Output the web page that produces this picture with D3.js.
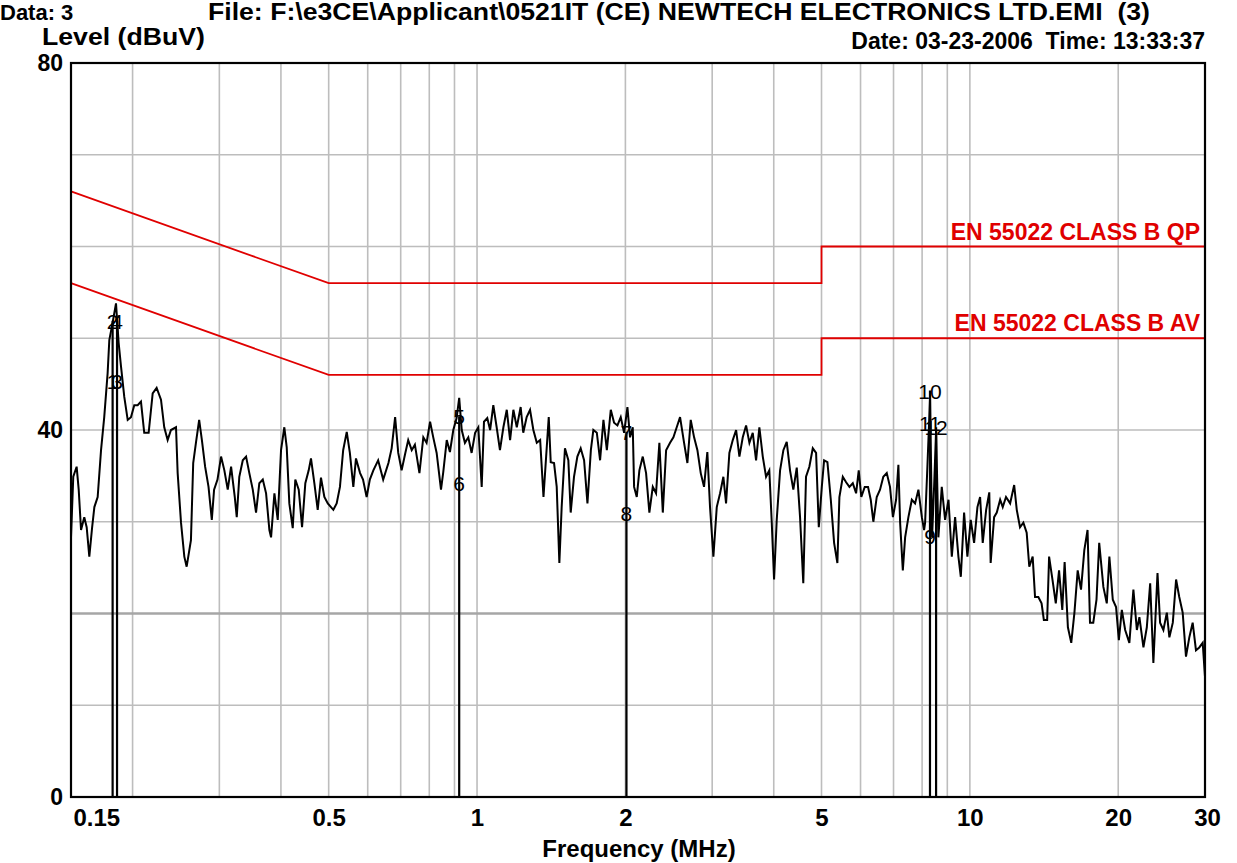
<!DOCTYPE html>
<html><head><meta charset="utf-8">
<script src="https://cdn.jsdelivr.net/npm/d3@7"></script>
<style>body{margin:0;background:#fff}svg{display:block}text{white-space:pre}</style>
</head><body><svg id="c" width="1237" height="863"></svg>
<script>
// ---------- data ----------
const freqMHz = [
0.1500,0.1516,0.1540,0.1555,0.1572,0.1596,0.1614,0.1634,0.1655,0.1673,0.1699,0.1726,0.1752,0.1780,0.1794,0.1822,0.1851,0.1874,0.1895,0.1924,
0.1955,0.1985,0.2016,0.2048,0.2080,0.2112,0.2156,0.2197,0.2238,0.2284,0.2319,0.2356,0.2393,0.2450,0.2469,0.2508,0.2547,0.2575,0.2627,0.2655,
0.2689,0.2730,0.2765,0.2807,0.2852,0.2896,0.2927,0.2974,0.3024,0.3071,0.3120,0.3169,0.3224,0.3254,0.3293,0.3347,0.3399,0.3451,0.3507,0.3561,
0.3616,0.3675,0.3732,0.3790,0.3820,0.3880,0.3941,0.4002,0.4064,0.4110,0.4160,0.4227,0.4278,0.4347,0.4415,0.4483,0.4554,0.4603,0.4676,0.4750,
0.4823,0.4900,0.4979,0.5054,
0.511,0.519,0.527,0.535,0.544,0.552,0.561,0.568,0.579,0.587,0.597,0.606,0.616,0.630,0.645,0.661,0.671,0.682,0.692,0.703,
0.714,0.725,0.737,0.748,0.764,0.778,0.790,0.803,0.815,0.828,0.845,0.854,0.868,0.881,0.895,0.909,0.920,0.931,0.945,0.960,
0.975,0.991,1.006,1.022,1.033,1.049,1.063,1.079,1.096,1.113,1.131,1.149,1.167,1.185,1.204,1.226,1.241,1.261,1.281,1.301,
1.322,1.343,1.364,1.381,1.398,1.411,1.433,1.451,1.469,1.485,1.508,1.532,1.549,1.573,1.598,1.623,1.649,1.675,1.702,1.722,
1.750,1.777,1.805,1.834,1.868,1.897,1.927,1.957,1.988,2.019,
2.044,2.070,2.083,2.109,2.135,2.169,2.203,2.237,2.273,2.308,2.344,2.382,2.419,2.464,2.503,2.542,2.582,2.631,2.672,2.714,
2.757,2.800,2.844,2.888,2.933,2.970,3.017,3.065,3.113,3.161,3.201,3.251,3.303,3.355,3.407,3.461,3.515,3.570,3.626,3.683,
3.740,3.800,3.859,3.918,3.963,4.006,4.056,4.120,4.184,4.250,4.316,4.383,4.454,4.523,4.592,4.651,4.724,4.800,4.875,4.937,
5.007,5.061,5.140,5.222,5.303,5.385,5.436,5.523,5.609,5.696,5.787,5.877,5.950,6.022,6.119,6.214,6.293,6.370,6.472,6.572,
6.674,6.782,6.886,6.980,7.085,7.161,7.219,7.311,7.390,7.504,7.625,7.742,7.863,7.990,8.075,
8.113,8.200,8.304,8.382,8.461,8.541,8.632,8.770,8.907,9.050,9.191,9.334,9.479,9.586,9.734,9.885,10.04,10.20,10.36,10.49,
10.62,10.79,10.95,11.02,11.20,11.34,11.52,11.66,11.84,12.07,12.30,12.45,12.64,12.84,13.04,13.20,13.41,13.56,13.77,13.98,
14.13,14.35,14.48,14.71,14.94,15.17,15.40,15.57,15.81,16.06,16.30,16.55,16.81,17.07,17.33,17.53,17.80,18.07,18.30,18.66,
18.96,19.19,19.50,19.80,20.06,20.34,20.66,21.07,21.47,21.82,22.08,22.50,22.86,23.22,23.57,24.03,24.32,24.70,25.10,25.40,
25.81,26.21,26.60,27.03,27.45,27.88,28.32,28.76,29.21,29.68,30.00
];
const levelDbuV = [
28.3,34.9,36.0,33.5,29.1,30.5,29.4,26.2,29.3,31.6,32.7,37.8,41.4,46.2,49.8,51.7,53.8,49.5,46.9,43.6,
41.1,41.4,42.7,42.7,43.1,39.7,39.7,44.0,44.6,43.3,40.3,38.9,40.0,40.3,35.3,29.9,26.2,25.1,28.0,36.4,
38.6,41.1,38.9,36.0,33.8,30.2,33.5,34.6,37.1,35.6,33.5,36.0,32.7,30.5,34.9,36.7,37.1,35.3,33.5,31.0,
34.2,34.6,33.1,29.1,28.3,33.1,30.2,37.8,40.3,38.1,32.0,29.3,34.6,33.5,29.4,34.2,35.6,36.9,34.2,31.3,
34.8,32.7,32.0,31.6,
31.3,32.0,33.8,37.8,39.8,37.5,33.8,36.9,35.3,34.6,32.7,34.6,35.6,36.7,34.6,36.4,38.0,41.4,37.5,35.6,
37.3,38.9,37.8,38.4,35.3,39.2,38.6,40.9,39.2,37.5,33.5,35.4,38.9,37.6,40.0,41.3,43.5,40.0,38.6,39.2,
37.5,39.7,40.3,33.8,40.9,41.3,40.0,42.7,40.3,37.8,40.3,42.2,38.9,42.2,40.3,42.5,39.7,41.4,42.2,40.0,
38.6,38.9,32.7,37.1,41.4,36.5,36.4,33.8,25.5,31.6,38.0,36.7,31.0,34.9,37.1,38.0,36.7,32.0,37.8,40.0,
39.7,36.7,41.1,37.8,42.2,40.8,40.5,41.4,39.7,42.5,
39.2,40.3,33.8,32.7,35.6,37.1,35.3,31.0,33.8,33.1,38.6,31.0,37.8,38.6,39.2,40.3,41.4,38.6,36.4,41.1,
39.2,37.8,35.3,33.8,37.6,31.6,26.2,31.6,33.1,34.9,32.0,37.5,38.9,40.0,37.1,39.2,40.5,38.6,39.7,36.7,
40.3,37.1,34.9,35.6,29.9,23.7,30.2,35.6,37.8,38.7,35.6,33.5,35.9,30.5,23.3,34.9,36.0,38.0,37.5,29.4,
33.8,36.7,36.5,32.4,27.7,25.5,32.7,34.9,34.3,33.8,34.2,33.1,35.6,32.7,33.8,33.8,32.4,30.0,32.7,33.5,
34.9,35.3,33.8,30.5,32.4,36.2,29.9,24.7,28.3,30.5,32.4,32.0,33.5,30.5,29.1,
29.9,36.0,43.6,28.3,33.8,40.0,28.3,33.8,30.2,32.4,26.2,30.5,26.2,24.0,31.0,26.2,30.2,27.7,31.6,32.7,
27.7,31.3,33.2,25.5,30.5,31.0,32.4,31.6,32.7,32.0,34.0,31.3,29.4,29.9,28.8,25.1,26.2,21.8,21.8,21.1,
19.3,19.3,26.2,23.7,21.1,24.7,20.4,25.6,18.5,16.8,20.1,24.7,22.6,26.9,29.1,19.0,19.0,21.5,27.7,22.9,
21.1,26.2,21.5,20.7,17.1,20.4,18.2,16.8,22.6,18.2,19.6,16.3,18.5,23.3,14.6,24.4,19.0,18.2,20.1,17.4,
19.0,23.7,21.8,20.1,15.3,17.4,19.0,16.0,16.3,16.8,13.1
];

const markerLabels = ["1","2","3","4","5","6","7","8","9","10","11","12"];
const markerFreq   = [0.1822,0.1822,0.1860,0.1860,0.920,0.920,2.01,2.01,8.30,8.30,8.30,8.54];
const markerLevel  = [45.3,51.9,45.3,51.9,41.5,34.2,39.8,31.0,28.5,44.3,40.8,40.3];

const limitNames = ["EN 55022 CLASS B QP","EN 55022 CLASS B AV"];
const limitFreq  = [0.15,0.5,5,5,30];
const qpLevel    = [66,56,56,60,60];
const avLevel    = [56,46,46,50,50];

const xTickValues = [0.15,0.5,1,2,5,10,20,30];
const xTickLabels = ["0.15","0.5","1","2","5","10","20","30"];
const xGridValues = [0.2,0.3,0.4,0.5,0.6,0.7,0.8,0.9,1,2,3,4,5,6,7,8,9,10,20];
const yTickValues = [0,40,80];
const yGridValues = [10,20,30,40,50,60,70];

const headerData  = "Data: 3";
const headerFile  = "File: F:\\e3CE\\Applicant\\0521IT (CE) NEWTECH ELECTRONICS LTD.EMI  (3)";
const headerDate  = "Date: 03-23-2006  Time: 13:33:37";
const yTitle      = "Level (dBuV)";
const xTitle      = "Frequency (MHz)";

// ---------- layout ----------
const W = 1237, H = 863;
const m = {l:71, r:32, t:63, b:66};
const svg = d3.select("#c");
const FONT = "'Liberation Sans', Arial, sans-serif";
const RED = "#e00000";

const x = d3.scaleLog().domain([0.15,30]).range([m.l, W-m.r]);
const y = d3.scaleLinear().domain([0,80]).range([H-m.b, m.t]);

// grid
const g = svg.append("g");
g.selectAll("line.vg").data(xGridValues).enter().append("line")
  .attr("x1", d=>x(d)).attr("x2", d=>x(d)).attr("y1", y(80)).attr("y2", y(0))
  .attr("stroke", "#bdbdbd").attr("stroke-width", 1.6);
g.selectAll("line.hg").data(yGridValues).enter().append("line")
  .attr("x1", x(0.15)).attr("x2", x(30)).attr("y1", d=>y(d)).attr("y2", d=>y(d))
  .attr("stroke", d=> d===20 ? "#a6a6a6" : "#bdbdbd").attr("stroke-width", d=> d===20 ? 2.6 : 1.6);

// limits
const lim = d3.line().x(d=>x(d[0])).y(d=>y(d[1]));
[qpLevel, avLevel].forEach(lv=>{
  svg.append("path").datum(limitFreq.map((f,i)=>[f, lv[i]]))
    .attr("d", lim).attr("fill","none").attr("stroke",RED).attr("stroke-width",1.8);
});
[qpLevel, avLevel].forEach((lv,k)=>{
  svg.append("text").attr("x", x(30)-5).attr("y", y(lv[lv.length-1])-7)
    .attr("text-anchor","end").attr("font-family",FONT).attr("font-weight","bold")
    .attr("font-size",23).attr("fill",RED).text(limitNames[k]);
});

// trace
svg.append("path").datum(freqMHz.map((f,i)=>[f, levelDbuV[i]]))
  .attr("d", d3.line().x(d=>x(d[0])).y(d=>y(d[1])))
  .attr("fill","none").attr("stroke","#000").attr("stroke-width",2).attr("stroke-linejoin","miter");

// markers
const mk = markerFreq.map((f,i)=>({f, v:markerLevel[i], t:markerLabels[i]}));
const topByFreq = d3.rollup(mk, v=>d3.max(v, d=>d.v), d=>d.f);
svg.selectAll("line.mk").data(Array.from(topByFreq)).enter().append("line")
  .attr("x1", d=>x(d[0])).attr("x2", d=>x(d[0])).attr("y1", y(0)).attr("y2", d=>y(d[1]))
  .attr("stroke","#000").attr("stroke-width",2.2);
svg.selectAll("text.mk").data(mk).enter().append("text")
  .attr("x", d=>x(d.f)).attr("y", d=>y(d.v)+8)
  .attr("text-anchor","middle").attr("font-family",FONT).attr("font-size",21)
  .attr("fill","#000").text(d=>d.t);

// frame
svg.append("rect").attr("x", m.l).attr("y", m.t).attr("width", W-m.l-m.r).attr("height", H-m.t-m.b)
  .attr("fill","none").attr("stroke","#000").attr("stroke-width",2.2);

// axes
const xAxis = d3.axisBottom(x).tickValues(xTickValues).tickFormat((d,i)=>xTickLabels[i]).tickSize(0).tickPadding(12);
const xa = svg.append("g").attr("transform",`translate(0,${H-m.b})`).call(xAxis);
xa.select(".domain").remove();
xa.selectAll("text").attr("font-family",FONT).attr("font-weight","bold").attr("font-size",24).attr("fill","#000")
  .attr("text-anchor",(d,i)=> i===0 ? "start" : "middle")
  .attr("dx",(d,i)=> i===0 ? 2 : (i===xTickValues.length-1 ? 2 : 0));

const yAxis = d3.axisLeft(y).tickValues(yTickValues).tickFormat(d3.format("d")).tickSize(0).tickPadding(8);
const ya = svg.append("g").attr("transform",`translate(${m.l},0)`).call(yAxis);
ya.select(".domain").remove();
ya.selectAll("text").attr("font-family",FONT).attr("font-weight","bold").attr("font-size",23).attr("fill","#000");

// titles
const bold = (sel)=>sel.attr("font-family",FONT).attr("font-weight","bold").attr("fill","#000");
bold(svg.append("text")).attr("x", 639).attr("y", 857).attr("text-anchor","middle")
  .attr("font-size",24).text(xTitle);
bold(svg.append("text")).attr("x", 42).attr("y", 45)
  .attr("font-size",23).attr("textLength",163).attr("lengthAdjust","spacingAndGlyphs").text(yTitle);
bold(svg.append("text")).attr("x", 0).attr("y", 20)
  .attr("font-size",22).text(headerData);
bold(svg.append("text")).attr("x", 208).attr("y", 20)
  .attr("font-size",23).attr("textLength",942).attr("lengthAdjust","spacingAndGlyphs").text(headerFile);
bold(svg.append("text")).attr("x", W-m.r).attr("y", 49).attr("text-anchor","end")
  .attr("font-size",23).text(headerDate);
</script></body></html>
